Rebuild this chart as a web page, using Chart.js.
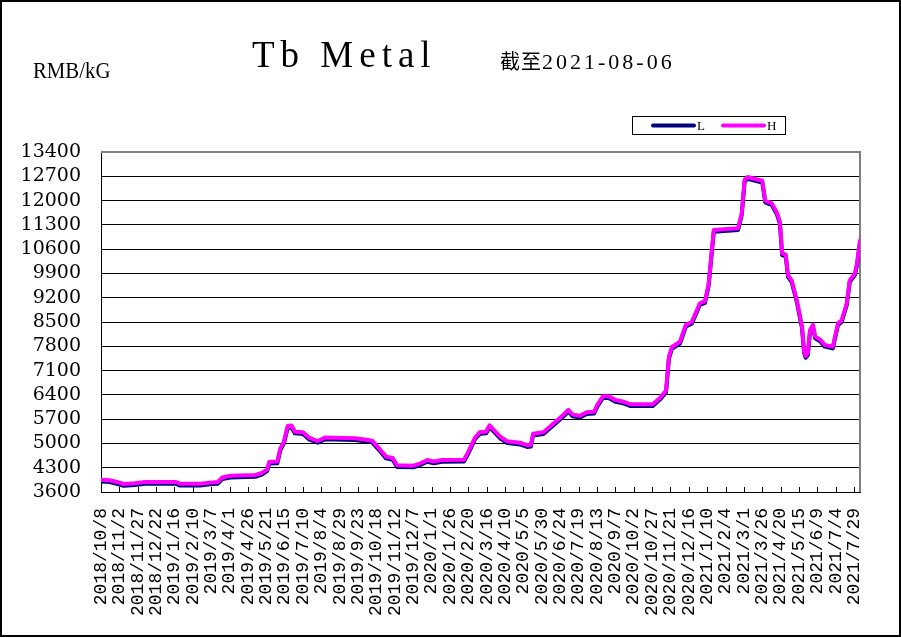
<!DOCTYPE html>
<html><head><meta charset="utf-8">
<script src="https://cdn.jsdelivr.net/npm/chart.js@4.4.1/dist/chart.umd.min.js"></script>
<style>
html,body{margin:0;padding:0;background:#fff;}
#wrap{position:relative;width:901px;height:638px;overflow:hidden;background:#fff;}
#c{position:absolute;left:0;top:0;}
.t{position:absolute;white-space:nowrap;color:#000;font-family:"Liberation Serif",serif;line-height:1;transform-origin:0 0;}
#title{left:252px;top:36px;font-size:37px;letter-spacing:6px;}
#sub{left:500px;top:51px;font-size:22px;letter-spacing:3px;}
#sub .cjk{font-family:"Noto Sans CJK SC",sans-serif;font-size:20px;letter-spacing:1px;}
#unit{left:33px;top:58.6px;font-size:23.5px;transform:scaleX(0.885);}
</style></head><body>
<div id="wrap">
<canvas id="c" width="901" height="638"></canvas>
<div class="t" id="unit">RMB/kG</div>
<div class="t" id="title">Tb Metal</div>
<div class="t" id="sub"><span class="cjk">截至</span>2021-08-06</div>
</div>
<script>
// ---- data ----
const dates = [
 "2018-10-08","2018-10-20","2018-10-31","2018-11-08","2018-11-23","2018-12-07","2019-01-18","2019-01-23","2019-02-20","2019-03-05",
 "2019-03-16","2019-03-22","2019-04-02","2019-05-06","2019-05-15","2019-05-22","2019-05-25","2019-06-05","2019-06-09","2019-06-14",
 "2019-06-19","2019-06-24","2019-06-29","2019-07-10","2019-07-18","2019-07-30","2019-08-09","2019-09-19","2019-10-06","2019-10-12",
 "2019-10-23","2019-10-31","2019-11-09","2019-11-15","2019-12-07","2019-12-16","2019-12-26","2020-01-04","2020-01-15","2020-02-14",
 "2020-02-19","2020-02-29","2020-03-07","2020-03-15","2020-03-20","2020-03-26","2020-04-03","2020-04-13","2020-04-30","2020-05-10",
 "2020-05-15","2020-05-18","2020-06-01","2020-06-07","2020-06-20","2020-06-29","2020-07-05","2020-07-11","2020-07-21","2020-07-30",
 "2020-08-09","2020-08-14","2020-08-21","2020-08-29","2020-09-07","2020-09-17","2020-09-27","2020-10-28","2020-11-07","2020-11-15",
 "2020-11-19","2020-11-23","2020-12-04","2020-12-12","2020-12-20","2020-12-31","2021-01-07","2021-01-12","2021-01-19","2021-02-21",
 "2021-02-26","2021-03-02","2021-03-06","2021-03-26","2021-03-30","2021-04-08","2021-04-15","2021-04-19","2021-04-22","2021-04-27",
 "2021-04-30","2021-05-05","2021-05-12","2021-05-19","2021-05-22","2021-05-24","2021-05-27","2021-05-30","2021-06-03","2021-06-06",
 "2021-06-13","2021-06-19","2021-06-30","2021-07-07","2021-07-12","2021-07-19","2021-07-23","2021-07-30","2021-08-02","2021-08-06"
];
const lowPrices = [
 3900,3890,3830,3780,3800,3840,3840,3790,3790,3820,
 3840,3970,4020,4040,4100,4200,4420,4430,4800,5000,
 5450,5470,5290,5270,5120,5020,5120,5100,5050,5030,
 4770,4570,4530,4320,4310,4370,4470,4430,4470,4480,
 4670,5120,5280,5290,5470,5330,5150,5010,4970,4900,
 4910,5230,5270,5380,5620,5790,5920,5780,5750,5850,
 5860,6080,6310,6310,6200,6160,6080,6080,6270,6470,
 7450,7730,7880,8370,8450,8990,9050,9550,11100,11150,
 11580,12550,12630,12520,11950,11870,11600,11330,10430,10390,
 9800,9650,9080,8330,7600,7470,7550,8220,8370,8030,
 7940,7790,7740,8410,8500,8990,9650,9850,10140,10800
];
const highPrices = [
 3950,3940,3880,3830,3850,3890,3890,3840,3840,3870,
 3890,4020,4070,4090,4150,4250,4470,4480,4850,5050,
 5500,5520,5340,5320,5170,5070,5170,5150,5100,5080,
 4820,4620,4580,4370,4360,4420,4520,4480,4520,4530,
 4720,5170,5330,5340,5520,5380,5200,5060,5020,4950,
 4960,5280,5320,5430,5670,5840,5970,5830,5800,5900,
 5910,6130,6360,6360,6250,6210,6130,6130,6320,6520,
 7500,7780,7930,8420,8500,9040,9100,9600,11150,11200,
 11630,12600,12680,12570,12000,11920,11650,11380,10480,10440,
 9850,9700,9130,8380,7650,7520,7600,8270,8420,8080,
 7990,7840,7790,8460,8550,9040,9700,9900,10190,10850
];
const tickLabels = [
 "2018/10/8","2018/11/2","2018/11/27","2018/12/22","2019/1/16","2019/2/10","2019/3/7","2019/4/1","2019/4/26","2019/5/21",
 "2019/6/15","2019/7/10","2019/8/4","2019/8/29","2019/9/23","2019/10/18","2019/11/12","2019/12/7","2020/1/1","2020/1/26",
 "2020/2/20","2020/3/16","2020/4/10","2020/5/5","2020/5/30","2020/6/24","2020/7/19","2020/8/13","2020/9/7","2020/10/2",
 "2020/10/27","2020/11/21","2020/12/16","2021/1/10","2021/2/4","2021/3/1","2021/3/26","2021/4/20","2021/5/15","2021/6/9",
 "2021/7/4","2021/7/29"
];
const yTicks = [3600,4300,5000,5700,6400,7100,7800,8500,9200,9900,10600,11300,12000,12700,13400];
const seriesNames = ["L","H"];
const seriesColors = ["#000080","#FF00FF"];

// ---- helpers ----
function toUTC(s){const p=s.split(/[-\/]/).map(Number);return Date.UTC(p[0],p[1]-1,p[2]);}
const t0 = toUTC(dates[0]);
const dayOf = s => Math.round((toUTC(s)-t0)/86400000);
const lastDay = dayOf(dates[dates.length-1]);
const tickDays = tickLabels.map(dayOf);
const labelByDay = {}; tickDays.forEach((d,i)=>labelByDay[d]=tickLabels[i]);

const framePlugin = {
  id:'frame',
  beforeDraw(chart){const c=chart.ctx;c.save();c.fillStyle='#fff';c.fillRect(0,0,chart.width,chart.height);c.restore();},
  beforeDatasetsDraw(chart){
    const c=chart.ctx, a=chart.chartArea, xs=chart.scales.x;
    c.save();
    c.strokeStyle='#808080';c.lineWidth=2;
    c.beginPath();c.moveTo(a.left,a.top);c.lineTo(a.right,a.top);c.lineTo(a.right,a.bottom);c.stroke();
    c.strokeStyle='#000';c.lineWidth=1;
    xs.ticks.forEach(t=>{const x=Math.round(xs.getPixelForValue(t.value))+0.5;c.beginPath();c.moveTo(x,a.bottom);c.lineTo(x,a.bottom-5);c.stroke();});
    c.restore();
  },
  afterDraw(chart){
    const c=chart.ctx;
    c.save();
    c.strokeStyle='#000';c.lineWidth=2;c.strokeRect(1,1,chart.width-2,chart.height-3);
    c.lineWidth=1;c.strokeRect(632.5,116.5,153,18);
    const items=[{x0:653,x1:694,tx:697},{x0:723,x1:764,tx:767}];
    chart.data.datasets.forEach((ds,i)=>{
      const it=items[i];
      c.strokeStyle=ds.borderColor;c.lineWidth=4;c.lineCap='round';
      c.beginPath();c.moveTo(it.x0,125.5);c.lineTo(it.x1,125.5);c.stroke();
      c.fillStyle='#000';c.font='13px "Liberation Serif"';c.textBaseline='alphabetic';
      c.fillText(ds.label,it.tx,130);
    });
    c.restore();
  }
};

const mk = (vals,i,ord)=>({
  label:seriesNames[i],
  data:dates.map((d,k)=>({x:dayOf(d),y:vals[k]})),
  borderColor:seriesColors[i],backgroundColor:seriesColors[i],
  borderWidth:4,pointRadius:0,tension:0,order:ord,
  borderJoinStyle:'round',borderCapStyle:'round',fill:false
});

new Chart(document.getElementById('c'),{
  type:'line',
  data:{datasets:[mk(lowPrices,0,1),mk(highPrices,1,0)]},
  options:{
    responsive:false,animation:false,devicePixelRatio:1,
    layout:{padding:{left:0,right:41,top:152,bottom:0}},
    plugins:{legend:{display:false},title:{display:false},tooltip:{enabled:false}},
    scales:{
      x:{type:'linear',min:0,max:lastDay,
        afterBuildTicks(s){s.ticks=tickDays.map(v=>({value:v}));},
        afterFit(s){s.height=146;},
        ticks:{autoSkip:false,minRotation:90,maxRotation:90,padding:16,color:'#000',
          font:{family:'Liberation Mono',size:18},callback:v=>labelByDay[v]},
        grid:{drawOnChartArea:false,drawTicks:false},
        border:{color:'#000',width:1}},
      y:{type:'linear',min:yTicks[0],max:yTicks[yTicks.length-1],
        afterBuildTicks(s){s.ticks=yTicks.map(v=>({value:v}));},
        afterFit(s){s.width=101;},
        ticks:{autoSkip:false,padding:20,color:'#000',font:{family:'DejaVu Serif',size:19},callback:v=>String(v)},
        grid:{color:ctx=>(ctx.tick&&ctx.tick.value===yTicks[yTicks.length-1])?'#808080':'#000',lineWidth:1,drawTicks:false},
        border:{color:'#000',width:1}}
    }
  },
  plugins:[framePlugin]
});
</script>
</body></html>
